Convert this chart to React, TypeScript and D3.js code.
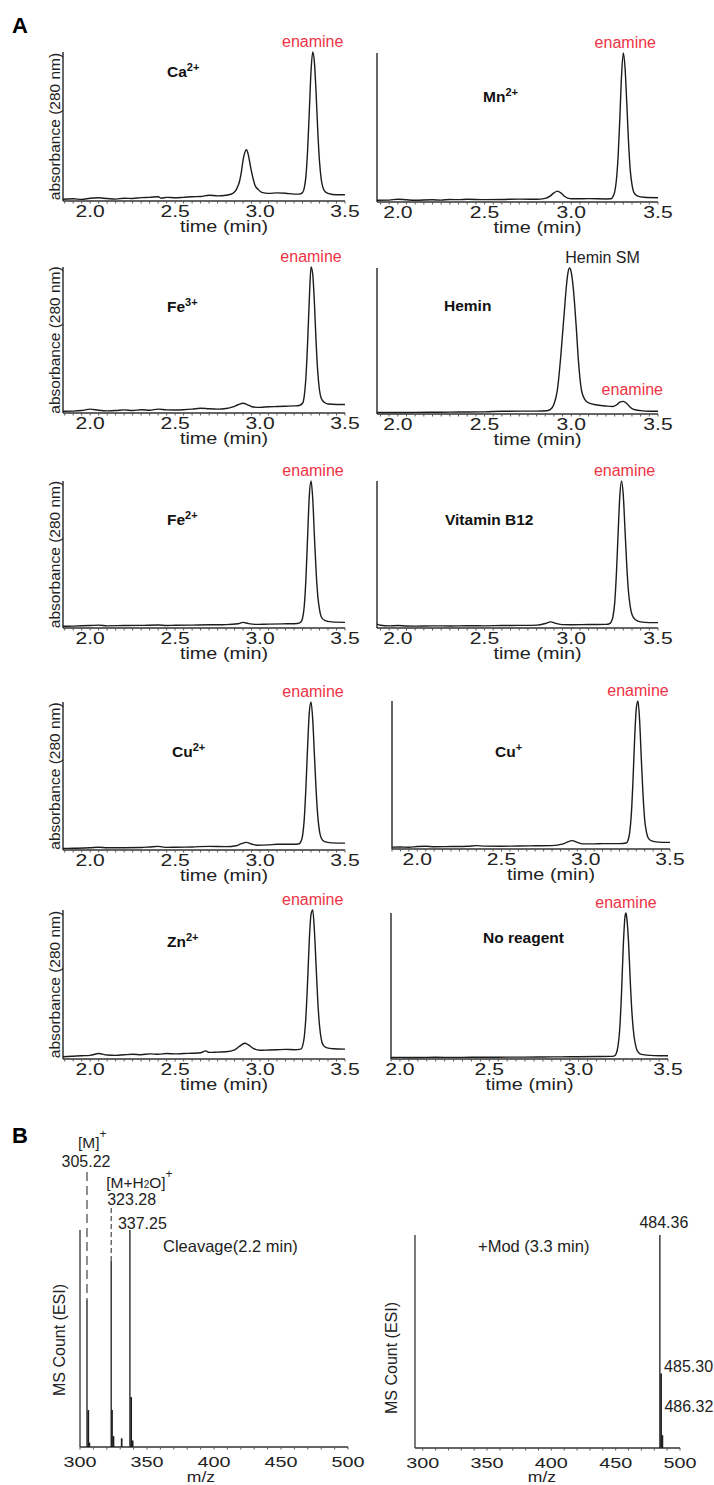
import React from "react";
import * as d3 from "d3";

const FONT = "'Liberation Sans', Arial, Helvetica, sans-serif";
const RED = "#ee3344";
const INK = "#1c1c1c";

// tick labels
const timeTicks = [2.0, 2.5, 3.0, 3.5];
const mzTicks = [300, 350, 400, 450, 500];

// chromatograms: [time (min), absorbance as % of tallest peak]
const traceCa: [number, number][] = [
  [1.84, 0.5], [1.9, 0.8], [1.95, 0.4], [2.0, 1.2], [2.05, 1.5], [2.1, 1.0], [2.15, 0.6], [2.2, 1.2],
  [2.25, 1.0], [2.3, 1.6], [2.35, 1.8], [2.4, 2.2], [2.42, 1.2], [2.45, 1.8], [2.5, 1.5], [2.55, 1.8],
  [2.6, 2.2], [2.65, 2.4], [2.7, 3.2], [2.75, 2.8], [2.8, 3.2], [2.84, 4.5], [2.86, 7], [2.88, 13],
  [2.89, 19], [2.9, 27], [2.91, 32], [2.92, 34], [2.93, 31], [2.94, 25], [2.95, 19], [2.96, 14],
  [2.97, 10], [2.99, 7], [3.01, 5.2], [3.05, 4.5], [3.1, 4.8], [3.15, 4.6], [3.2, 4.0], [3.23, 4.0],
  [3.25, 5], [3.26, 8], [3.27, 16], [3.28, 34], [3.29, 60], [3.3, 87], [3.31, 100], [3.32, 93],
  [3.33, 72], [3.34, 46], [3.35, 26], [3.36, 14], [3.37, 8.5], [3.38, 6], [3.4, 4.5], [3.45, 3.5], [3.5, 3.5],
];
const traceMn: [number, number][] = [
  [1.88, 0.5], [1.95, 0.6], [2.0, 1.2], [2.05, 0.8], [2.1, 0.5], [2.2, 0.8], [2.25, 0.6], [2.3, 1.0],
  [2.35, 0.9], [2.4, 1.2], [2.5, 0.9], [2.6, 1.0], [2.7, 1.3], [2.8, 1.2], [2.85, 1.8], [2.88, 3.5],
  [2.9, 5.5], [2.92, 6.7], [2.94, 5.5], [2.96, 3.2], [2.98, 2.0], [3.0, 1.5], [3.1, 1.6], [3.2, 1.4],
  [3.23, 1.5], [3.24, 3], [3.25, 6], [3.26, 14], [3.27, 30], [3.28, 56], [3.29, 85], [3.3, 100],
  [3.31, 90], [3.32, 66], [3.33, 40], [3.34, 21], [3.35, 11], [3.36, 6], [3.38, 3.5], [3.42, 2.5], [3.5, 2.2],
];
const traceFe3: [number, number][] = [
  [1.84, 0.5], [1.9, 0.6], [1.95, 1.0], [2.0, 2.0], [2.05, 1.2], [2.1, 0.8], [2.15, 1.0], [2.2, 1.5],
  [2.25, 1.0], [2.3, 1.6], [2.35, 1.2], [2.4, 2.0], [2.45, 1.5], [2.5, 1.4], [2.55, 1.6], [2.6, 2.0],
  [2.65, 2.6], [2.7, 2.2], [2.75, 2.0], [2.8, 2.4], [2.84, 3.5], [2.87, 5], [2.9, 6], [2.93, 4.8],
  [2.96, 3.4], [3.0, 3.2], [3.05, 3.6], [3.1, 3.8], [3.15, 4.0], [3.2, 4.2], [3.23, 4.5], [3.25, 6],
  [3.26, 11], [3.27, 24], [3.28, 48], [3.29, 78], [3.3, 100], [3.31, 95], [3.32, 75], [3.33, 48],
  [3.34, 27], [3.35, 15], [3.36, 9.5], [3.38, 6.5], [3.4, 5.5], [3.45, 5.2], [3.5, 5.2],
];
const traceHemin: [number, number][] = [
  [1.88, 0.3], [2.0, 0.3], [2.1, 0.4], [2.2, 0.5], [2.3, 0.6], [2.4, 0.7], [2.5, 0.8], [2.6, 1.2],
  [2.7, 1.3], [2.8, 1.3], [2.86, 1.6], [2.88, 2.5], [2.9, 6], [2.92, 16], [2.94, 40], [2.95, 55],
  [2.96, 70], [2.97, 85], [2.98, 96], [2.99, 100], [3.0, 97], [3.01, 88], [3.02, 74], [3.03, 57],
  [3.04, 38], [3.05, 24], [3.06, 15], [3.08, 9], [3.1, 7], [3.15, 5.5], [3.2, 4.8], [3.24, 4.5],
  [3.26, 5.5], [3.28, 7.5], [3.3, 8], [3.32, 6.5], [3.34, 4], [3.36, 2.5], [3.4, 1.6], [3.45, 1.2], [3.5, 1.2],
];
const traceFe2: [number, number][] = [
  [1.84, 0.5], [1.9, 0.6], [2.0, 1.0], [2.05, 1.3], [2.1, 0.8], [2.2, 1.0], [2.3, 1.1], [2.4, 1.4],
  [2.45, 1.0], [2.5, 1.2], [2.6, 1.3], [2.7, 1.5], [2.8, 1.6], [2.87, 2.2], [2.9, 3.2], [2.93, 2.4],
  [2.97, 1.8], [3.05, 2.0], [3.15, 2.2], [3.22, 2.4], [3.24, 3.5], [3.25, 6], [3.26, 14], [3.27, 33],
  [3.28, 62], [3.29, 90], [3.3, 100], [3.31, 88], [3.32, 62], [3.33, 38], [3.34, 21], [3.35, 12],
  [3.36, 7], [3.38, 4.5], [3.42, 3.5], [3.5, 3.2],
];
const traceB12: [number, number][] = [
  [1.88, 2.0], [1.9, 1.2], [1.95, 0.8], [2.0, 1.0], [2.05, 0.7], [2.1, 0.6], [2.2, 0.8], [2.3, 0.7],
  [2.4, 0.9], [2.5, 0.8], [2.6, 1.0], [2.7, 1.1], [2.8, 1.3], [2.85, 2.4], [2.88, 3.5], [2.91, 2.5],
  [2.95, 1.6], [3.0, 1.5], [3.1, 1.7], [3.2, 1.8], [3.22, 2.2], [3.23, 3.5], [3.24, 7], [3.25, 16],
  [3.26, 36], [3.27, 64], [3.28, 90], [3.29, 100], [3.3, 90], [3.31, 66], [3.32, 42], [3.33, 24],
  [3.34, 14], [3.35, 8.5], [3.37, 5], [3.4, 3.5], [3.45, 3], [3.5, 3],
];
const traceCu2: [number, number][] = [
  [1.84, 0.4], [1.9, 0.5], [2.0, 0.8], [2.05, 1.2], [2.1, 0.8], [2.2, 0.9], [2.3, 1.0], [2.35, 1.4],
  [2.4, 1.8], [2.45, 1.1], [2.5, 1.2], [2.6, 1.4], [2.7, 1.8], [2.8, 1.6], [2.86, 2.2], [2.89, 3.6],
  [2.92, 4.5], [2.95, 3.4], [2.98, 2.6], [3.05, 2.8], [3.1, 3.2], [3.2, 3.2], [3.23, 3.6], [3.24, 5],
  [3.25, 9], [3.26, 20], [3.27, 42], [3.28, 70], [3.29, 93], [3.3, 100], [3.31, 88], [3.32, 64],
  [3.33, 40], [3.34, 22], [3.35, 12], [3.36, 7.5], [3.38, 5], [3.42, 4.2], [3.5, 4.0],
];
const traceCu1: [number, number][] = [
  [1.85, 0.6], [1.9, 0.7], [1.95, 0.5], [2.0, 1.0], [2.05, 1.2], [2.1, 0.9], [2.2, 1.0], [2.3, 1.2],
  [2.35, 1.6], [2.4, 1.3], [2.5, 1.2], [2.6, 1.4], [2.7, 1.5], [2.8, 1.6], [2.86, 2.6], [2.89, 4],
  [2.92, 5], [2.95, 3.8], [2.98, 2.8], [3.05, 2.8], [3.1, 3.0], [3.2, 3.0], [3.24, 3.4], [3.25, 5],
  [3.26, 10], [3.27, 22], [3.28, 45], [3.29, 74], [3.3, 95], [3.31, 100], [3.32, 86], [3.33, 60],
  [3.34, 36], [3.35, 19], [3.36, 11], [3.37, 7], [3.39, 4.8], [3.43, 4], [3.5, 3.8],
];
const traceZn: [number, number][] = [
  [1.84, 0.8], [1.9, 1.2], [1.95, 1.5], [2.0, 1.8], [2.05, 3.0], [2.1, 2.0], [2.15, 1.8], [2.2, 2.2],
  [2.25, 2.5], [2.3, 2.2], [2.35, 2.8], [2.4, 2.5], [2.45, 3.0], [2.5, 2.8], [2.55, 3.0], [2.6, 3.2],
  [2.65, 3.5], [2.68, 4.8], [2.7, 3.8], [2.75, 4.0], [2.8, 4.2], [2.85, 5.5], [2.88, 8], [2.91, 10],
  [2.93, 9], [2.96, 6.5], [3.0, 5.2], [3.05, 5.4], [3.1, 5.6], [3.15, 5.8], [3.2, 5.6], [3.24, 6],
  [3.25, 8], [3.26, 14], [3.27, 28], [3.28, 52], [3.29, 80], [3.3, 97], [3.31, 100], [3.32, 86],
  [3.33, 62], [3.34, 38], [3.35, 22], [3.36, 13], [3.37, 9], [3.39, 7], [3.43, 6.2], [3.5, 6.0],
];
const traceNone: [number, number][] = [
  [1.95, 0.3], [2.0, 0.4], [2.1, 0.3], [2.2, 0.5], [2.3, 0.4], [2.4, 0.5], [2.5, 0.5], [2.6, 0.6],
  [2.7, 0.6], [2.8, 0.7], [2.9, 0.8], [3.0, 0.9], [3.1, 1.0], [3.18, 1.1], [3.2, 1.5], [3.21, 3],
  [3.22, 8], [3.23, 20], [3.24, 45], [3.25, 78], [3.26, 98], [3.265, 100], [3.27, 96], [3.28, 78],
  [3.29, 50], [3.3, 28], [3.31, 15], [3.32, 8], [3.33, 4.5], [3.35, 2.5], [3.4, 1.8], [3.45, 1.6], [3.5, 1.6],
];

// mass spectra: [m/z, relative count]
const cleavagePeaks: [number, number][] = [
  [305.22, 68], [306.2, 17], [307.0, 2], [323.28, 86], [323.9, 17], [325.0, 5],
  [331.1, 4], [337.25, 100], [338.2, 23], [339.3, 3],
];
const modPeaks: [number, number][] = [[484.36, 100], [485.3, 35], [486.32, 6]];

// stretched text helper
function Txt({ x, y, size, sx = 1, anchor = "start", weight = "normal", fill = INK, rotate = 0, children }: any) {
  return (
    <text
      transform={`translate(${x},${y}) rotate(${rotate}) scale(${sx},1)`}
      fontSize={size}
      fontFamily={FONT}
      fontWeight={weight}
      textAnchor={anchor}
      fill={fill}
    >
      {children}
    </text>
  );
}

function Ion({ base, sup }: { base: string; sup: string }) {
  return (
    <>
      {base}
      <tspan fontSize={11} dy={-6}>{sup}</tspan>
    </>
  );
}

const L = { x0: 63, x1: 345, domain: [1.84, 3.5] };
const R = { x0: 377, x1: 658, domain: [1.88, 3.5] };

const panels = [
  { trace: traceCa, ...L, top: 52, bottom: 201, name: <Ion base="Ca" sup="2+" />, nx: 167, ny: 77, yLabel: true, tag: "enamine", tagT: 3.31, tagDx: 0, tagRed: true },
  { trace: traceMn, ...R, top: 53, bottom: 202, name: <Ion base="Mn" sup="2+" />, nx: 483, ny: 102, tag: "enamine", tagT: 3.3, tagDx: 2, tagRed: true },
  { trace: traceFe3, ...L, top: 267, bottom: 413, name: <Ion base="Fe" sup="3+" />, nx: 167, ny: 312, yLabel: true, tag: "enamine", tagT: 3.3, tagDx: 0, tagRed: true },
  { trace: traceHemin, ...R, top: 268, bottom: 414, name: "Hemin", nx: 444, ny: 311, tag: "Hemin SM", tagT: 2.99, tagDx: 33, tagRed: false, tag2: "enamine", tag2T: 3.3, tag2Y: 395 },
  { trace: traceFe2, ...L, top: 481, bottom: 628, name: <Ion base="Fe" sup="2+" />, nx: 167, ny: 525, yLabel: true, tag: "enamine", tagT: 3.3, tagDx: 2, tagRed: true },
  { trace: traceB12, ...R, top: 481, bottom: 628, name: "Vitamin B12", nx: 445, ny: 525, tag: "enamine", tagT: 3.29, tagDx: 3, tagRed: true },
  { trace: traceCu2, ...L, top: 702, bottom: 850, name: <Ion base="Cu" sup="2+" />, nx: 172, ny: 757, yLabel: true, tag: "enamine", tagT: 3.3, tagDx: 2, tagRed: true },
  { trace: traceCu1, x0: 392, x1: 670, domain: [1.85, 3.5], top: 701, bottom: 849, name: <Ion base="Cu" sup="+" />, nx: 495, ny: 757, tag: "enamine", tagT: 3.31, tagDx: 0, tagRed: true },
  { trace: traceZn, ...L, top: 910, bottom: 1059, name: <Ion base="Zn" sup="2+" />, nx: 167, ny: 947, yLabel: true, tag: "enamine", tagT: 3.31, tagDx: 0, tagRed: true },
  { trace: traceNone, x0: 391, x1: 668, domain: [1.95, 3.5], top: 913, bottom: 1059, name: "No reagent", nx: 483, ny: 943, tag: "enamine", tagT: 3.265, tagDx: 0, tagRed: true, centerTime: true },
];

function Chromatogram({ p }: { p: any }) {
  const x = d3.scaleLinear().domain(p.domain).range([p.x0, p.x1]);
  const y = d3.scaleLinear().domain([0, 100]).range([p.bottom - 1, p.top]);
  const line = d3
    .line<[number, number]>()
    .x((d) => x(d[0]))
    .y((d) => y(d[1]))
    .curve(d3.curveMonotoneX);
  const minor = d3
    .range(Math.ceil(p.domain[0] * 20), Math.floor(p.domain[1] * 20) + 1)
    .map((i) => i / 20);
  const mid = (p.x0 + p.x1) / 2 + (p.centerTime ? 0 : 20);
  return (
    <g>
      <line x1={p.x0} x2={p.x0} y1={p.top} y2={p.bottom} stroke="#333" strokeWidth={1.5} />
      <line x1={p.x0} x2={p.x1} y1={p.bottom} y2={p.bottom} stroke="#333" strokeWidth={1.5} />
      {minor.map((t) => (
        <line key={t} x1={x(t)} x2={x(t)} y1={p.bottom} y2={p.bottom + 2.5} stroke="#555" strokeWidth={1} />
      ))}
      <path d={line(p.trace) || ""} fill="none" stroke={INK} strokeWidth={1.4} strokeLinejoin="round" />
      {timeTicks.map((t) => (
        <Txt key={t} x={x(t)} y={p.bottom + 15.5} size={16} sx={1.32} anchor="middle" fill="#222">
          {t.toFixed(1)}
        </Txt>
      ))}
      <Txt x={mid} y={p.bottom + 31} size={16} sx={1.24} anchor="middle" fill="#222">
        time (min)
      </Txt>
      {p.yLabel && (
        <Txt x={p.x0 - 3.5} y={(p.top + p.bottom) / 2} size={15.5} anchor="middle" rotate={-90} fill="#222">
          absorbance (280 nm)
        </Txt>
      )}
      <Txt x={p.nx} y={p.ny} size={15.5} weight="bold" fill="#111">
        {p.name}
      </Txt>
      <Txt x={x(p.tagT) + p.tagDx} y={p.top - 5} size={16} anchor="middle" fill={p.tagRed ? RED : "#222"}>
        {p.tag}
      </Txt>
      {p.tag2 && (
        <Txt x={x(p.tag2T) + 9} y={p.tag2Y} size={16} anchor="middle" fill={RED}>
          {p.tag2}
        </Txt>
      )}
    </g>
  );
}

function MSPanel({ peaks, x0, x1, top, bottom, domain, ylx, yly, children }: any) {
  const x = d3.scaleLinear().domain(domain).range([x0, x1]);
  const y = d3.scaleLinear().domain([0, 100]).range([bottom, top]);
  const minor = d3.range(Math.ceil(domain[0] / 10) * 10, domain[1] + 1, 10);
  return (
    <g>
      <line x1={x0} x2={x0} y1={top} y2={bottom} stroke="#333" strokeWidth={1.3} />
      <line x1={x0} x2={x1} y1={bottom} y2={bottom} stroke="#333" strokeWidth={1.5} />
      {minor.map((m: number) => (
        <line key={m} x1={x(m)} x2={x(m)} y1={bottom} y2={bottom + 2.5} stroke="#555" strokeWidth={1} />
      ))}
      {peaks.map(([mz, h]: [number, number]) => (
        <line key={mz} x1={x(mz)} x2={x(mz)} y1={bottom} y2={y(h)} stroke={INK} strokeWidth={h > 60 ? 1.3 : 1.7} />
      ))}
      {mzTicks.map((m) => (
        <Txt key={m} x={x(m)} y={bottom + 20} size={15} sx={1.32} anchor="middle" fill="#222">
          {m}
        </Txt>
      ))}
      <Txt x={ylx} y={yly} size={16} anchor="middle" rotate={-90} fill="#222">
        MS Count (ESI)
      </Txt>
      {children(x, y)}
    </g>
  );
}

export default function App() {
  return (
    <svg
      width={714}
      height={1485}
      viewBox="0 0 714 1485"
      style={{ position: "absolute", left: 0, top: 0, background: "#fff" }}
    >
      <rect width={714} height={1485} fill="#fff" />
      <Txt x={12} y={33} size={22} weight="bold" fill="#000">A</Txt>
      <Txt x={12} y={1143} size={22} weight="bold" fill="#000">B</Txt>
      {panels.map((p, i) => (
        <Chromatogram key={i} p={p} />
      ))}

      <MSPanel peaks={cleavagePeaks} x0={80} x1={348} top={1230} bottom={1447} domain={[300, 500]} ylx={65} yly={1340}>
        {(x: any, y: any) => (
          <g>
            <line x1={x(305.22)} x2={x(305.22)} y1={1172} y2={y(68)} stroke="#333" strokeWidth={1.1} strokeDasharray="9,5" />
            <line x1={x(323.28)} x2={x(323.28)} y1={1208} y2={y(86)} stroke="#333" strokeWidth={1.1} strokeDasharray="5,3" />
            <Txt x={x(305.22) - 9} y={1148} size={15.5} fill="#222">
              [M]<tspan fontSize={12} dy={-10}>+</tspan>
            </Txt>
            <Txt x={x(305.22) - 1} y={1167} size={16} anchor="middle" fill="#222">305.22</Txt>
            <Txt x={x(323.28) - 5} y={1188} size={15.5} fill="#222">
              [M+H<tspan fontSize={10} dy={0}>2</tspan>O]<tspan fontSize={12} dy={-10}>+</tspan>
            </Txt>
            <Txt x={x(323.28) - 4} y={1205} size={16} fill="#222">323.28</Txt>
            <Txt x={x(337.25) - 12} y={1229} size={16} fill="#222">337.25</Txt>
            <Txt x={163} y={1252} size={16.5} fill="#222">Cleavage(2.2 min)</Txt>
            <Txt x={201} y={1482} size={15} sx={1.17} anchor="middle" fill="#222">m/z</Txt>
          </g>
        )}
      </MSPanel>

      <MSPanel peaks={modPeaks} x0={415} x1={680} top={1235} bottom={1448} domain={[294, 500]} ylx={397} yly={1358}>
        {(x: any) => (
          <g>
            <Txt x={x(484.36) + 4} y={1228} size={16} anchor="middle" fill="#222">484.36</Txt>
            <Txt x={478} y={1252} size={16.5} fill="#222">+Mod (3.3 min)</Txt>
            <Txt x={x(485.3) + 3} y={1372} size={16} fill="#222">485.30</Txt>
            <Txt x={x(486.32) + 2} y={1412} size={16} fill="#222">486.32</Txt>
            <Txt x={542} y={1482} size={15} sx={1.17} anchor="middle" fill="#222">m/z</Txt>
          </g>
        )}
      </MSPanel>
    </svg>
  );
}
